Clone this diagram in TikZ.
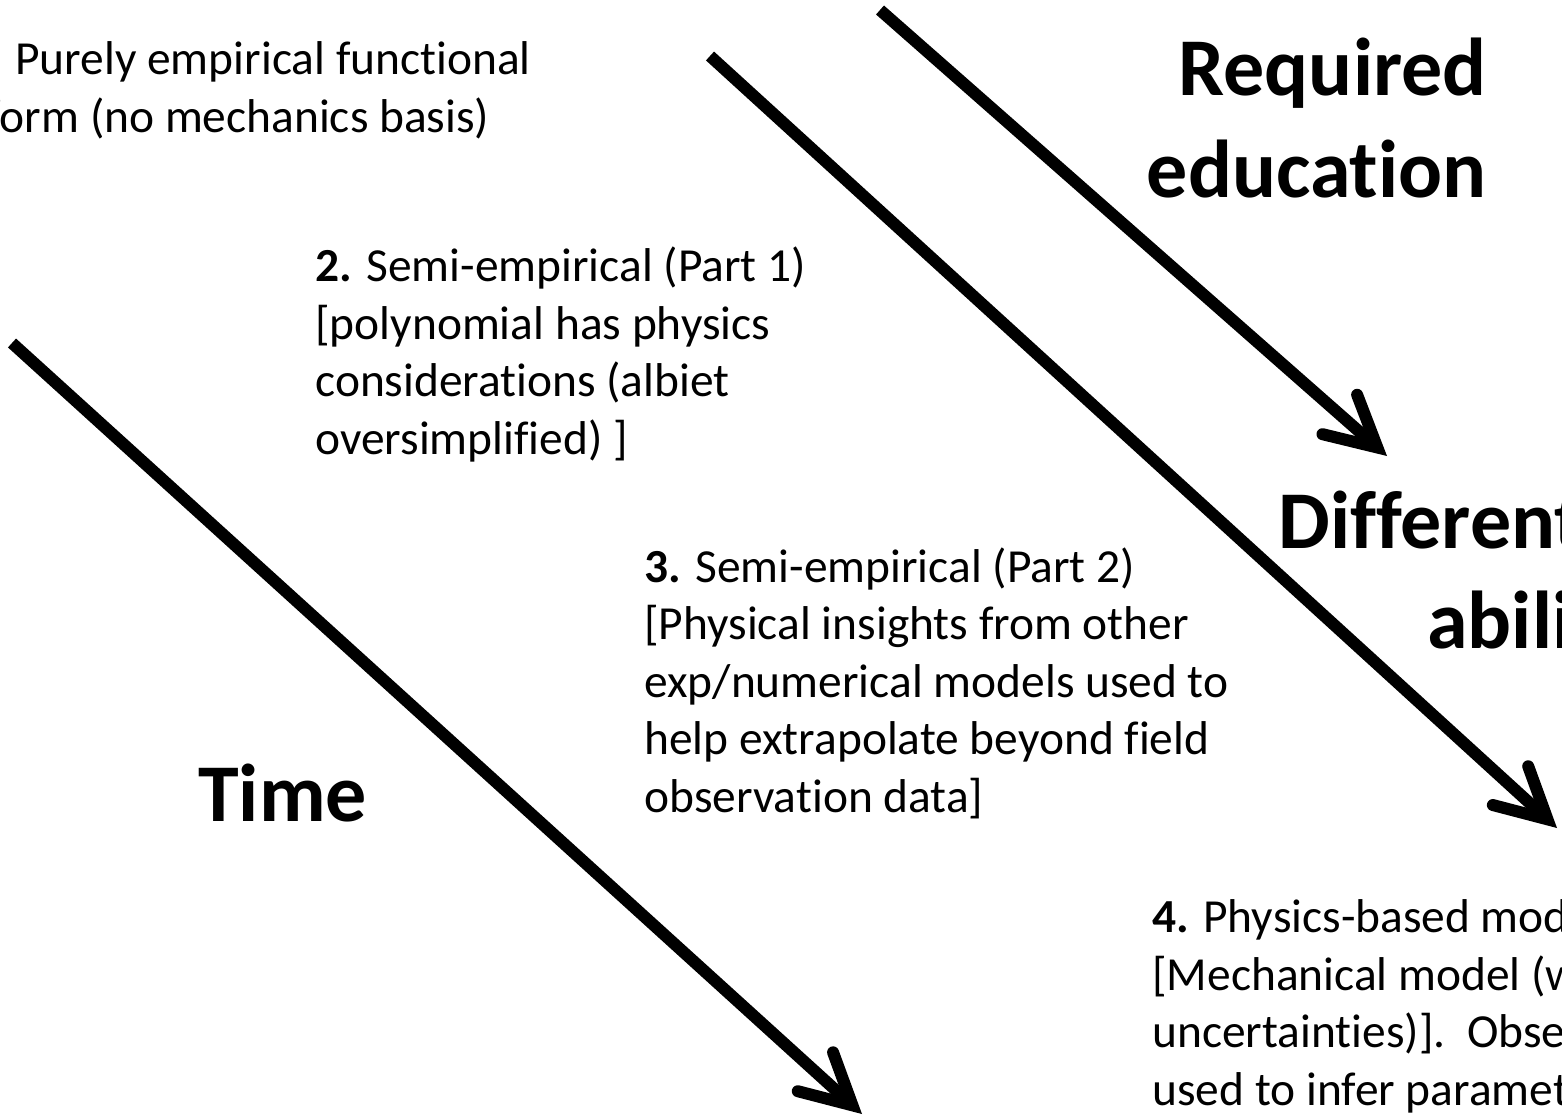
\documentclass[tikz,border=0pt]{standalone}
\usepackage{fontspec}
\setmainfont{Carlito}[Ligatures=NoCommon]
\usetikzlibrary{arrows.meta}

\begin{document}
\begin{tikzpicture}[x=0.02cm, y=-0.02cm,
  thickarrow/.style={line width=0.24cm,
    -{Straight Barb[length=1cm, width=1.05cm, line cap=round, line join=miter]}},
  stepnote/.style={anchor=base west, inner sep=0pt, align=left,
    font=\fontsize{27}{32.7}\selectfont},
  biglabel/.style={inner sep=0pt, font=\fontsize{46.7}{58}\selectfont\bfseries}]
  \useasboundingbox (0,0) rectangle (1562,1117);

  % Draw the arrows
  \coordinate (timeS) at (12,343);
  \coordinate (timeE) at (862,1114);
  \coordinate (abilS) at (710,56);
  \coordinate (abilE) at (1557,828);
  \coordinate (eduS) at (880,10);
  \coordinate (eduE) at (1387,456);
  \draw[thickarrow] (timeS) -- (timeE);
  \draw[thickarrow] (abilS) -- (abilE);
  \draw[thickarrow] (eduS) -- (eduE);

  % Label the arrows (base = last line)
  \node[biglabel, anchor=base west] (time) at (198,821) {Time};
  \node[biglabel, anchor=base east, align=right] (edu) at (1487,197) {Required\\education};
  \node[biglabel, anchor=base west] (diff) at (1278,548) {Different};
  \node[biglabel, anchor=base west] (abil) at (1427,648) {abilities};

  % The four model types
  \node[stepnote] (one) at (-14,132) {\hspace*{0.58cm}Purely empirical functional\\form (no mechanics basis)};
  \node[stepnote] (two) at (315,454) {\textbf{2.} Semi-empirical (Part 1)\\{}[polynomial has physics\\considerations (albiet\\oversimplified) ]};
  \node[stepnote] (three) at (644,812) {\textbf{3.} Semi-empirical (Part 2)\\{}[Physical insights from other\\exp/numerical models used to\\help extrapolate beyond field\\observation data]};
  \node[stepnote] (four) at (1152,1105) {\textbf{4.} Physics-based model\\{}[Mechanical model (with\\uncertainties)].\ \ Observations\\used to infer parameters};
\end{tikzpicture}
\end{document}
